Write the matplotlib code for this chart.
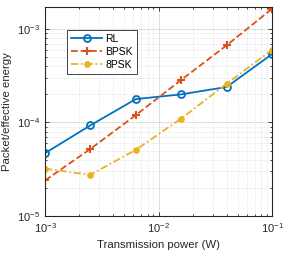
import matplotlib
matplotlib.use("Agg")
import matplotlib.pyplot as plt
from matplotlib.ticker import LogLocator, NullFormatter

plt.rcParams["font.family"] = ["Liberation Sans", "DejaVu Sans"]
plt.rcParams["mathtext.fontset"] = "custom"
plt.rcParams["mathtext.rm"] = "Liberation Sans"

power = [1e-3, 2.5e-3, 6.3e-3, 1.58e-2, 3.98e-2, 1e-1]
rl = [4.7e-5, 9.3e-5, 1.78e-4, 2.0e-4, 2.4e-4, 5.4e-4]
bpsk = [2.4e-5, 5.2e-5, 1.2e-4, 2.85e-4, 6.7e-4, 1.65e-3]
psk8 = [3.2e-5, 2.75e-5, 5.1e-5, 1.1e-4, 2.6e-4, 6.0e-4]

fig = plt.figure(figsize=(2.91, 2.62), dpi=100)
ax = fig.add_axes([0.155, 0.176, 0.78, 0.797])

ax.plot(power, rl, "-o", color="#0072BD", lw=1.3, ms=5, mfc="none", mew=1.3, label="RL")
ax.plot(power, bpsk, "--+", color="#D95319", lw=1.3, ms=6, mew=1.5, label="BPSK")
ax.plot(power, psk8, color="#EDB120", ls=(0, (4, 1.5, 1, 1.5)), marker="o",
        lw=1.3, ms=4, mew=0.8, label="8PSK")

ax.set_xscale("log")
ax.set_yscale("log")
ax.set_xlim(1e-3, 1e-1)
ax.set_ylim(1e-5, 1.72e-3)

ax.xaxis.set_minor_locator(LogLocator(base=10, subs=range(2, 10), numticks=20))
ax.yaxis.set_minor_locator(LogLocator(base=10, subs=range(2, 10), numticks=20))
ax.xaxis.set_minor_formatter(NullFormatter())
ax.yaxis.set_minor_formatter(NullFormatter())

ax.grid(True, which="major", color="0.85", lw=0.6, ls="-")
ax.grid(True, which="minor", color="0.8", lw=0.5, ls=(0, (1, 2)))
ax.set_axisbelow(True)

for s in ax.spines.values():
    s.set_color("0.15")
    s.set_linewidth(0.8)
ax.tick_params(which="both", direction="in", top=True, right=True, colors="0.15",
               labelsize=8, width=0.6)
ax.tick_params(which="major", length=3)
ax.tick_params(which="minor", length=1.6)

ax.set_xlabel("Transmission power (W)", fontsize=8.2, color="0.15")
ax.set_ylabel("Packet/effective energy", fontsize=8.2, color="0.15")

leg = ax.legend(loc="upper left", bbox_to_anchor=(0.075, 0.915), fontsize=7.5,
                fancybox=False, edgecolor="0.15", framealpha=1,
                handlelength=3.0, borderpad=0.35, labelspacing=0.3, handletextpad=0.3)
leg.get_frame().set_linewidth(0.6)

fig.savefig("out.png", dpi=100)
